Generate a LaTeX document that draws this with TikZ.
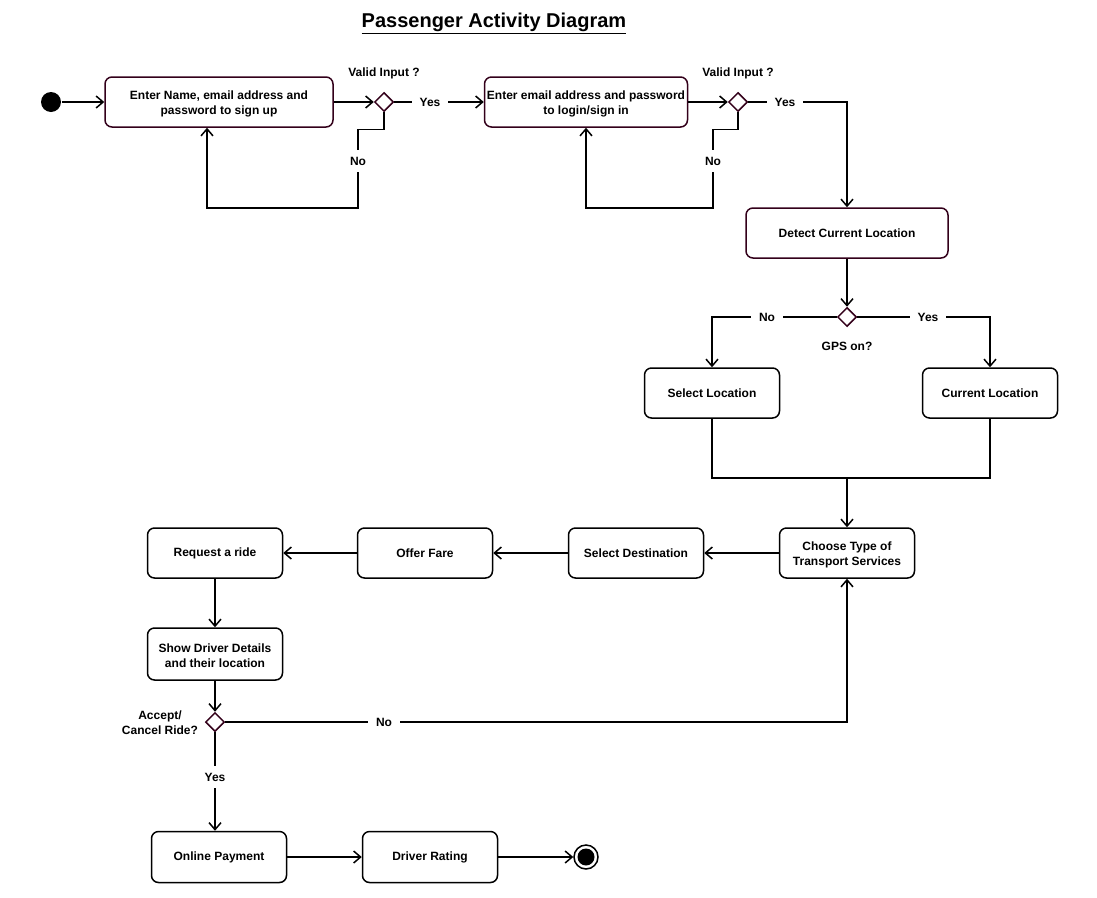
\documentclass[tikz,border=0pt]{standalone}
\usepackage{fontspec}
\setmainfont{Liberation Sans}
\usetikzlibrary{arrows.meta,shapes.geometric}
\definecolor{maroon}{HTML}{33001A}
\begin{document}
\begin{tikzpicture}[x=1pt,y=-1pt,line width=1.5pt,
  act/.style={draw,rounded corners=7pt,minimum width=135pt,minimum height=50pt,
    inner sep=0pt,align=center,font=\bfseries\fontsize{12}{15}\selectfont},
  actm/.style={act,draw=maroon},
  two/.style={text height=27pt},
  dec/.style={diamond,draw=maroon,fill=white,aspect=1,minimum width=19pt,
    minimum height=19pt,inner sep=0pt},
  lbl/.style={font=\bfseries\fontsize{12}{14}\selectfont,inner sep=0pt},
  gap/.style={lbl,fill=white,inner xsep=8pt,inner ysep=7pt},
  arr/.style={-{Straight Barb[length=7pt,width=12pt]}}]
\useasboundingbox (0,0) rectangle (1097,897);

% title
\node[font=\bfseries\fontsize{20}{24}\selectfont] (title) at (494,23)
  {\underline{Passenger Activity Diagram}};

% initial and final states
\node[circle,fill=black,minimum size=20pt,inner sep=0pt] (start) at (51,102) {};
\node[circle,draw=black,fill=white,minimum size=24pt,inner sep=0pt] (stop) at (586,857) {};
\node[circle,fill=black,minimum size=17pt,inner sep=0pt] at (stop) {};

% activities
\node[actm,two,minimum width=228pt] (b1) at (219,102) {Enter Name, email address and\\password to sign up};
\node[actm,two,minimum width=203pt] (b2) at (586,102) {Enter email address and password\\to login/sign in};
\node[actm,minimum width=202pt] (det) at (847,233) {Detect Current Location};
\node[act] (sel) at (712,393) {Select Location};
\node[act] (cur) at (990,393) {Current Location};
\node[act,two] (cho) at (847,553) {Choose Type of\\Transport Services};
\node[act] (dst) at (636,553) {Select Destination};
\node[act] (fare) at (425,553) {Offer Fare};
\node[act] (req) at (215,553) {Request a ride};
\node[act,two,minimum height=52pt] (drv) at (215,654) {Show Driver Details\\and their location};
\node[act,minimum height=51pt] (pay) at (219,857) {Online Payment};
\node[act,minimum height=51pt] (rat) at (430,857) {Driver Rating};

% decisions
\node[dec] (d1) at (384,102) {};
\node[dec] (d2) at (738,102) {};
\node[dec] (d3) at (847,317) {};
\node[dec] (d4) at (215,722) {};

\node[lbl] (v1) at (384,73) {Valid Input ?};
\node[lbl] (v2) at (738,73) {Valid Input ?};
\node[lbl] (gps) at (847,346) {GPS on?};
\node[lbl,align=center,font=\bfseries\fontsize{12}{15}\selectfont] (acc) at (160,723) {Accept/\\Cancel Ride?};

\coordinate (m) at (847,478);

% sign up
\draw[arr] (start) -- (b1);
\draw[arr] (b1) -- (d1);
\draw[arr] (d1) -- (b2);
\draw[arr] (d1.south) -- ++(0,17) -| (358,208) -| ([xshift=-12pt]b1.south);
\node[gap] (y1) at (430,102) {Yes};
\node[gap] (n1) at (358,161) {No};

% login
\draw[arr] (b2) -- (d2);
\draw[arr] (d2.south) -- ++(0,17) -| (713,208) -| (b2.south);
\draw[arr] (d2.east) -| (det.north);
\node[gap] (y2) at (785,102) {Yes};
\node[gap] (n2) at (713,161) {No};

% location
\draw[arr] (det) -- (d3);
\draw[arr] (d3.west) -| (sel.north);
\draw[arr] (d3.east) -| (cur.north);
\node[gap] (n3) at (767,317) {No};
\node[gap] (y3) at (928,317) {Yes};
\draw (sel.south) |- (m) -| (cur.south);
\draw[arr] (m) -- (cho);

% ride request
\draw[arr] (cho) -- (dst);
\draw[arr] (dst) -- (fare);
\draw[arr] (fare) -- (req);
\draw[arr] (req) -- (drv);
\draw[arr] (drv.south -| d4) -- (d4);
\draw[arr] (d4.east) -| (cho.south);
\draw[arr] (d4.south) -- (d4.south |- pay.north);
\node[gap] (n4) at (384,722) {No};
\node[gap] (y4) at (215,777) {Yes};

% completion
\draw[arr] (pay) -- (rat);
\draw[arr] (rat) -- (stop);
\end{tikzpicture}
\end{document}
